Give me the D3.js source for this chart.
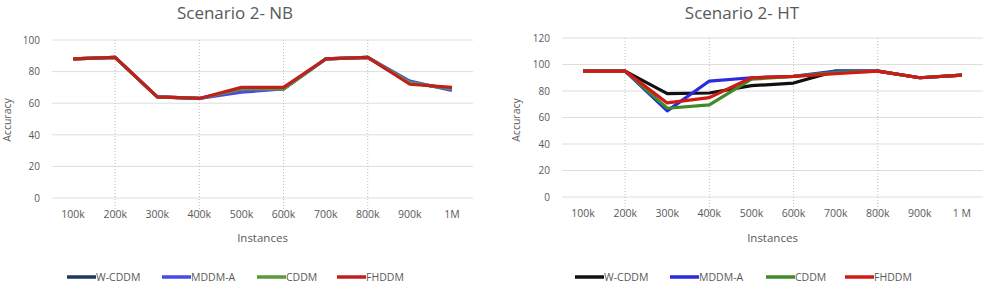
<!DOCTYPE html>
<html>
<head>
<meta charset="utf-8">
<script src="https://cdn.jsdelivr.net/npm/d3@7"></script>
<style>
  body { margin: 0; background: #fff; }
  text { font-family: "Open Sans", Lato, sans-serif; fill: #595959; }
</style>
</head>
<body>
<svg id="chart" width="991" height="286"></svg>
<script>
const categories = ['100k', '200k', '300k', '400k', '500k', '600k', '700k', '800k', '900k', '1M'];
const categoriesHT = ['100k', '200k', '300k', '400k', '500k', '600k', '700k', '800k', '900k', '1 M'];
const seriesNames = ['W-CDDM', 'MDDM-A', 'CDDM', 'FHDDM'];

// Scenario 2 - NB
const nbWCDDM = [88, 89, 64, 63, 69, 69, 88, 89, 73, 69];
const nbMDDMA = [88, 89, 64, 63, 67, 69, 88, 89, 74, 68];
const nbCDDM = [88, 89, 64, 63, 69, 69, 88, 89, 73, 69];
const nbFHDDM = [88, 89, 64, 63, 70, 70, 88, 89, 72, 70];

// Scenario 2 - HT
const htWCDDM = [95, 95, 78, 78.5, 84, 86, 95, 95, 90, 92];
const htMDDMA = [95, 95, 65, 87.5, 90, 91, 95, 95, 90, 92];
const htCDDM = [95, 95, 67, 69.5, 89, 91, 94, 95, 90, 92];
const htFHDDM = [95, 95, 71, 75, 90, 91, 93, 95, 90, 92];

const nbTicks = [0, 20, 40, 60, 80, 100];
const htTicks = [0, 20, 40, 60, 80, 100, 120];

const colorsNB = ['#1f3864', '#4a4ae6', '#5a9a3a', '#c0201c'];
const colorsHT = ['#111111', '#2a2ae0', '#3f8a2a', '#d01a14'];

const svg = d3.select('#chart');

function drawChart(cfg) {
  const g = svg.append('g');
  const x = d3.scaleBand().domain(cfg.categories).range([cfg.left, cfg.right]);
  const y = d3.scaleLinear().domain([0, cfg.yMax]).range([cfg.bottom, cfg.top]);

  // horizontal gridlines
  g.selectAll('.hgrid').data(cfg.ticks).enter().append('line')
    .attr('x1', cfg.left).attr('x2', cfg.right)
    .attr('y1', d => y(d)).attr('y2', d => y(d))
    .attr('stroke', '#dedede').attr('stroke-width', 1);

  // vertical dotted lines
  g.selectAll('.vgrid').data(cfg.vLines).enter().append('line')
    .attr('x1', d => x(d) + x.bandwidth() / 2).attr('x2', d => x(d) + x.bandwidth() / 2)
    .attr('y1', cfg.top).attr('y2', cfg.bottom + 22)
    .attr('stroke', '#bdbdbd').attr('stroke-width', 1).attr('stroke-dasharray', '1,2');

  // y tick labels
  const yAxis = g.append('g').attr('transform', `translate(${cfg.left - 12},0)`)
    .call(d3.axisLeft(y).tickValues(cfg.ticks).tickSize(0).tickPadding(0));
  yAxis.select('.domain').remove();
  yAxis.selectAll('text').style('font-size', '10px').attr('fill', '#595959');

  // x tick labels
  const xAxis = g.append('g').attr('transform', `translate(0,${cfg.bottom + 13})`)
    .call(d3.axisBottom(x).tickSize(0).tickPadding(0));
  xAxis.select('.domain').remove();
  xAxis.selectAll('text').style('font-size', '10.5px').attr('fill', '#595959');

  const line = d3.line()
    .x((d, i) => x(cfg.categories[i]) + x.bandwidth() / 2)
    .y(d => y(d));

  g.selectAll('.series').data(cfg.series).enter().append('path')
    .attr('d', d => line(d))
    .attr('fill', 'none')
    .attr('stroke', (d, i) => cfg.colors[i])
    .attr('stroke-width', 3.2)
    .attr('stroke-linejoin', 'round');

  // title
  g.append('text').attr('x', cfg.titleX).attr('y', 19)
    .attr('text-anchor', 'middle').style('font-size', '17px').text(cfg.title);

  // axis titles
  g.append('text').attr('x', (cfg.left + cfg.right) / 2).attr('y', 242)
    .attr('text-anchor', 'middle').style('font-size', '11.5px').text('Instances');
  g.append('text')
    .attr('transform', `translate(${cfg.yLabelX},120) rotate(-90)`)
    .attr('text-anchor', 'middle').style('font-size', '10.5px').text('Accuracy');

  // legend
  const leg = g.selectAll('.legend').data(seriesNames).enter().append('g')
    .attr('transform', (d, i) => `translate(${cfg.legendX[i]},277)`);
  leg.append('line').attr('x1', 0).attr('x2', 29).attr('y1', 0).attr('y2', 0)
    .attr('stroke', (d, i) => cfg.colors[i]).attr('stroke-width', 3.5);
  leg.append('text').attr('x', 29).attr('y', 4).style('font-size', '10.5px').text(d => d);
}

drawChart({
  title: 'Scenario 2- NB', titleX: 235,
  categories: categories,
  vLines: ['200k', '400k', '600k', '800k'],
  series: [nbWCDDM, nbMDDMA, nbCDDM, nbFHDDM],
  colors: colorsNB,
  ticks: nbTicks, yMax: 100,
  left: 52, right: 473, top: 40, bottom: 198,
  yLabelX: 11,
  legendX: [67, 162, 257, 337]
});

drawChart({
  title: 'Scenario 2- HT', titleX: 742,
  categories: categoriesHT,
  vLines: ['200k', '400k', '600k', '800k'],
  series: [htWCDDM, htMDDMA, htCDDM, htFHDDM],
  colors: colorsHT,
  ticks: htTicks, yMax: 120,
  left: 562, right: 983, top: 38, bottom: 197,
  yLabelX: 520,
  legendX: [575, 670, 766, 845]
});
</script>
</body>
</html>
